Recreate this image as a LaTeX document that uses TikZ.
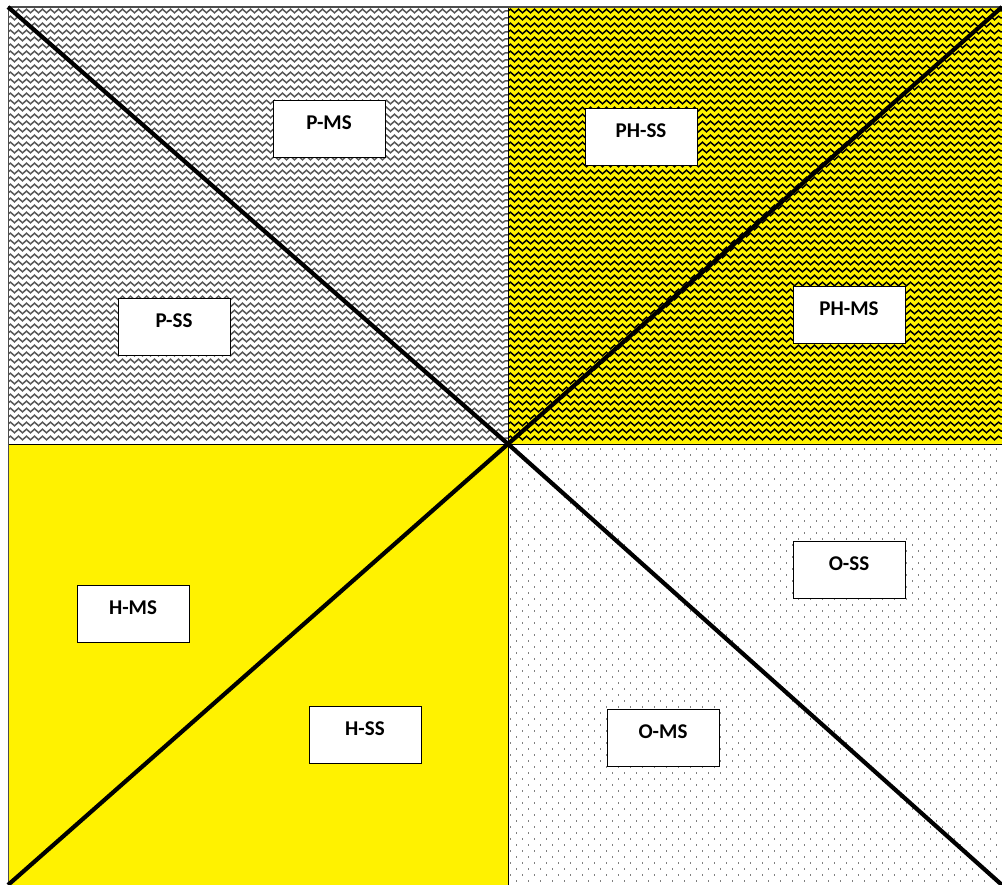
\documentclass[tikz,border=0pt]{standalone}
\usepackage{fontspec}
\setmainfont{Carlito}
\usepackage{tikz}
\usetikzlibrary{decorations.pathmorphing}

\begin{document}
\begin{tikzpicture}[
  x=1pt, y=-1pt,
  font=\fontsize{21}{25}\selectfont\bfseries,
  labelbox/.style={draw, line width=0.9pt, fill=white, minimum width=112pt,
                   minimum height=57pt, inner sep=0pt, text depth=12pt},
  wave/.style={decorate, decoration={snake, segment length=8pt, amplitude=1.8pt},
               line width=1.5pt},
  dotrow/.style={line width=1.3pt, gray, dash pattern=on 1.3pt off 10.7pt},
  diag/.style={line width=4.2pt, black},
  split/.style={line width=1pt, black},
]
\useasboundingbox (0,0) rectangle (1002,885);

% Quadrant fills
\fill[white]        (8,7)     rectangle (508,444);
\fill[yellow]       (508,7)   rectangle (1002,444);
\fill[yellow]       (8,444)   rectangle (508,885);
\fill[white]        (508,444) rectangle (1002,885);

% Wavy hatching: top left (grey) and top right (black on yellow)
\begin{scope}
  \clip (8,7) rectangle (508,444);
  \foreach \y in {11,18,...,444}
    \draw[wave, gray!70!black] (8,\y) -- (508,\y);
\end{scope}
\begin{scope}
  \clip (508,7) rectangle (1002,444);
  \foreach \y in {11,18,...,444}
    \draw[wave, black] (508,\y) -- (1002,\y);
\end{scope}

% Dotted fill: bottom right
\begin{scope}
  \clip (508,444) rectangle (1002,885);
  \foreach \y [count=\i, evaluate=\i as \ph using {6*mod(\i,2)}] in {449,455,...,885}
    \draw[dotrow, dash phase=\ph pt] (510,\y) -- (1002,\y);
\end{scope}

% Frame and quadrant lines
\coordinate (tl) at (8,7);
\coordinate (tr) at (1002,7);
\coordinate (bl) at (8,885);
\coordinate (br) at (1002,885);
\coordinate (c)  at (508,444);
\draw[split] (508,7) -- (508,885);
\draw[split] (8,444) -- (1002,444);
\draw[line width=1pt, gray!60!black] (bl) -- (tl);
\draw[line width=2pt, gray!60!black] (tl) -- (tr);

% Diagonals
\draw[diag] (tl) -- (c) -- (br);
\draw[diag] (bl) -- (c) -- (tr);

% Labels
\node[labelbox] (pms)  at (329,128.5) {P-MS};
\node[labelbox] (phss) at (641,136.5) {PH-SS};
\node[labelbox] (pss)  at (174,326.5) {P-SS};
\node[labelbox] (phms) at (849,314.5) {PH-MS};
\node[labelbox] (oss)  at (849,569.5) {O-SS};
\node[labelbox] (hms)  at (133,613.5) {H-MS};
\node[labelbox] (hss)  at (365,734.5) {H-SS};
\node[labelbox] (oms)  at (663,737.5) {O-MS};
\end{tikzpicture}
\end{document}
